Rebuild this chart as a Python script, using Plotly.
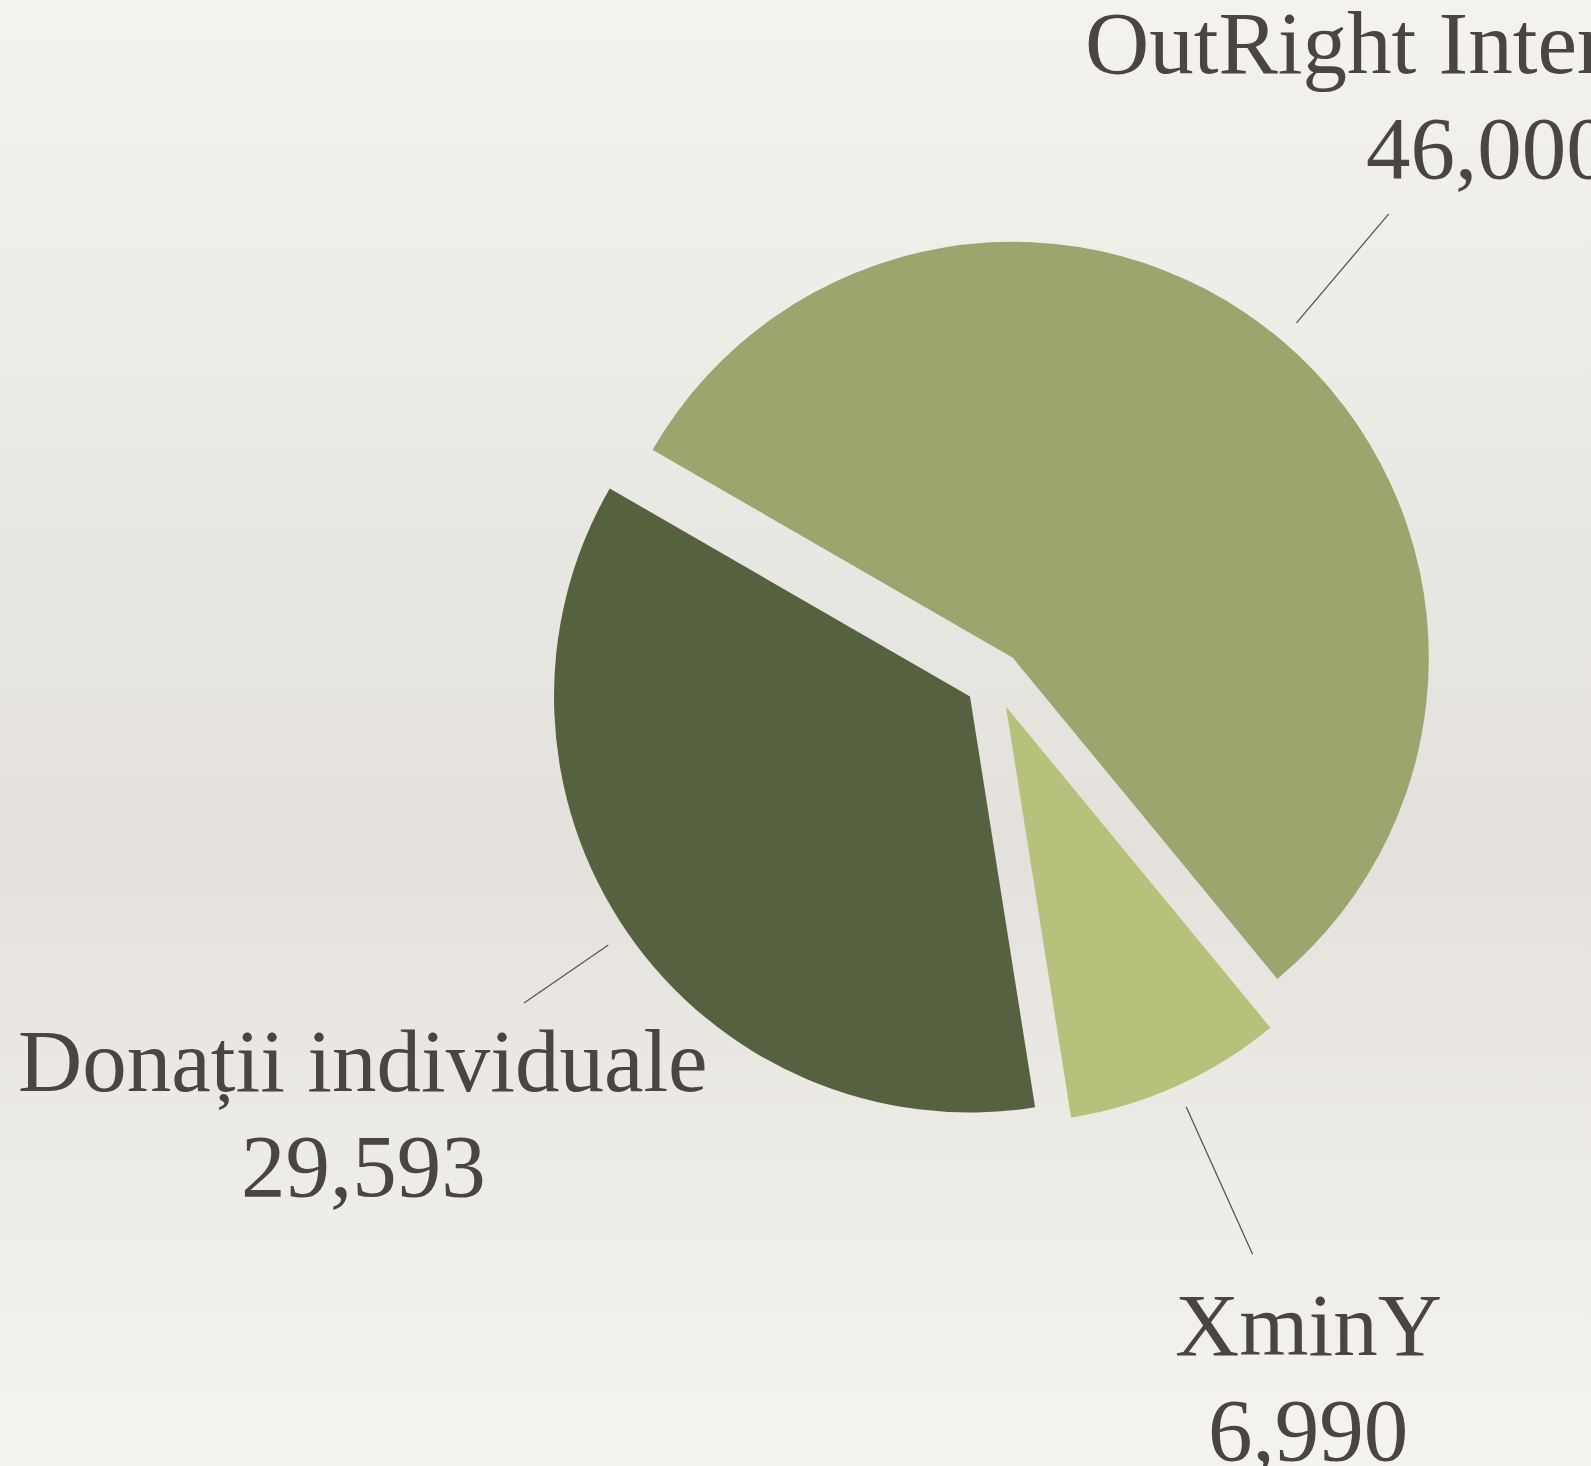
import math
import base64
import plotly.graph_objects as go

# ---- data ----
labels = ["OutRight International", "XminY", "Donații individuale"]
values = [46000, 6990, 29593]
colors = ["#9ca56d", "#b7c17b", "#56623f"]

# ---- layout parameters ----
W, H = 1591, 1466
CX, CY = 994.0, 680.0        # pie centre (px)
R = 416.0                     # pie radius (px)
PULL = 0.07
ROTATION = -60                # degrees (first slice starts 60deg ccw of 12 o'clock)
FONT_SIZE = 89
LINE_GAP = 105                # px between the name line and the value line
TEXT_COLOR = "#4a4541"
LABEL_DIST = 1.77
LINE_START = 1.055
LINE_PAD = 38

box = 2 * R * (1 + PULL)
dom_x = [(CX - box / 2) / W, (CX + box / 2) / W]
dom_y = [1 - (CY + box / 2) / H, 1 - (CY - box / 2) / H]

fig = go.Figure(go.Pie(
    labels=labels,
    values=values,
    sort=False,
    direction="clockwise",
    rotation=ROTATION,
    pull=[PULL] * len(values),
    marker=dict(colors=colors, line=dict(width=0)),
    textinfo="none",
    hoverinfo="label+value",
    showlegend=False,
    domain=dict(x=dom_x, y=dom_y),
))

# ---- outside labels with leader lines, computed from the data ----
total = sum(values)
angle = 90 - ROTATION  # math angle (deg) where first slice starts
annotations, shapes = [], []
font = dict(family="Liberation Serif", size=FONT_SIZE, color=TEXT_COLOR)
for lab, val in zip(labels, values):
    span = 360.0 * val / total
    mid = math.radians(angle - span / 2)
    angle -= span
    dx, dy = math.cos(mid), -math.sin(mid)
    ax, ay = CX + PULL * R * dx, CY + PULL * R * dy
    lx, ly = ax + LABEL_DIST * R * dx, ay + LABEL_DIST * R * dy
    vtxt = f"{val:,}"
    half_w = 0.42 * FONT_SIZE * max(len(lab), len(vtxt)) / 2
    half_h = FONT_SIZE
    t = min(half_w / max(abs(dx), 1e-6), half_h / max(abs(dy), 1e-6))
    end = LABEL_DIST * R - t - LINE_PAD
    x0, y0 = ax + LINE_START * R * dx, ay + LINE_START * R * dy
    x1, y1 = ax + end * dx, ay + end * dy
    shapes.append(dict(type="line", xref="paper", yref="paper",
                       x0=x0 / W, y0=1 - y0 / H, x1=x1 / W, y1=1 - y1 / H,
                       line=dict(color="#5a5550", width=1.3), layer="above"))
    for txt, off in ((lab, -LINE_GAP / 2), (vtxt, LINE_GAP / 2)):
        annotations.append(dict(xref="paper", yref="paper", x=lx / W,
                                y=1 - (ly + off) / H, text=txt, showarrow=False,
                                xanchor="center", yanchor="middle", font=font))

# ---- paper-like vertical gradient background ----
svg = (
    '<svg xmlns="http://www.w3.org/2000/svg" width="100" height="1000" preserveAspectRatio="none">'
    '<defs><linearGradient id="g" x1="0" y1="0" x2="0" y2="1">'
    '<stop offset="0" stop-color="#f4f2ec"/>'
    '<stop offset="0.2" stop-color="#efede8"/>'
    '<stop offset="0.41" stop-color="#e8e6e1"/>'
    '<stop offset="0.58" stop-color="#e4e1dc"/>'
    '<stop offset="0.85" stop-color="#f0eee8"/>'
    '<stop offset="1" stop-color="#f5f3ed"/>'
    '</linearGradient></defs>'
    '<rect width="100" height="1000" fill="url(#g)"/></svg>'
)
svg_uri = "data:image/svg+xml;base64," + base64.b64encode(svg.encode()).decode()

fig.update_layout(
    width=W, height=H,
    margin=dict(l=0, r=0, t=0, b=0),
    paper_bgcolor="#ebe8e3",
    plot_bgcolor="rgba(0,0,0,0)",
    annotations=annotations,
    shapes=shapes,
    images=[dict(source=svg_uri, xref="paper", yref="paper", x=0, y=1,
                 sizex=1, sizey=1, sizing="stretch", xanchor="left",
                 yanchor="top", layer="below")],
)

fig.write_html(
    "out.html",
    config={"displayModeBar": False},
    post_script="document.body.style.margin='0';document.body.style.overflow='hidden';",
)
